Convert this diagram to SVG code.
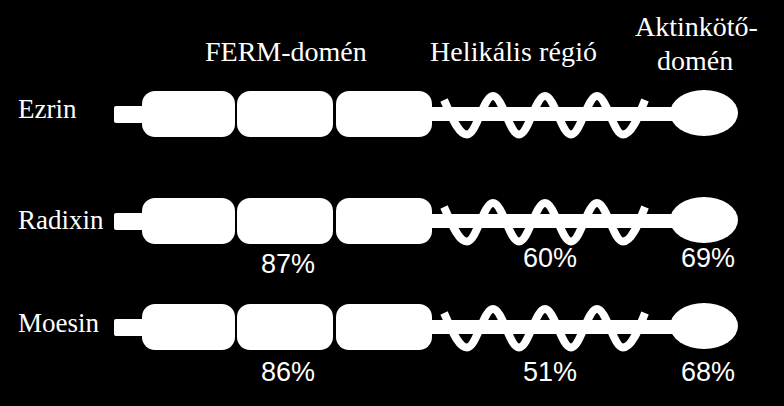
<svg xmlns="http://www.w3.org/2000/svg" width="784" height="406" viewBox="0 0 784 406">
<style>
.bg{fill:#000}
.w{fill:#fff}
.wave{fill:none;stroke:#fff;stroke-width:8;stroke-linecap:butt}
.hdr{font-family:"Liberation Serif","Times New Roman",serif;font-size:28px;fill:#fff}
.lbl{font-family:"Liberation Serif","Times New Roman",serif;font-size:27px;fill:#fff}
.pct{font-family:"Liberation Sans",Arial,sans-serif;font-size:27px;fill:#fff;text-anchor:middle}
</style>
<defs>
<g id="protein">
<rect class="w" x="114" y="106" width="34" height="17" rx="2"/>
<rect class="w" x="431" y="107" width="250" height="14"/>
<path class="wave" d="M444,100 C451,115 458,134.5 467,134.5 C476.4,134.5 483.6,96 493,96 C502.4,96 509.6,134.5 519,134.5 C528.4,134.5 535.6,96 545,96 C554.4,96 561.6,134.5 571,134.5 C580.4,134.5 587.6,96 597,96 C606.4,96 613.6,134.5 623,134.5 C632,134.5 639,115 645,100"/>
<rect class="w" x="142" y="91" width="93" height="46" rx="13"/>
<rect class="w" x="237" y="91" width="96" height="46" rx="13"/>
<rect class="w" x="336" y="91" width="96" height="46" rx="13"/>
<ellipse class="w" cx="704" cy="113" rx="34" ry="23"/>
</g>
</defs>
<rect class="bg" x="0" y="0" width="784" height="406"/>
<g id="headers">
<text class="hdr" x="205" y="61">FERM-domén</text>
<text class="hdr" x="430" y="61" textLength="167" lengthAdjust="spacing">Helikális régió</text>
<text class="hdr" x="635" y="36">Aktinkötő-</text>
<text class="hdr" x="657" y="70">domén</text>
</g>
<g id="ezrin">
<use href="#protein"/>
<text class="lbl" x="18" y="118">Ezrin</text>
</g>
<g id="radixin">
<use href="#protein" transform="translate(0,107)"/>
<text class="lbl" x="18" y="229">Radixin</text>
<text class="pct" x="288" y="273">87%</text>
<text class="pct" x="550" y="267">60%</text>
<text class="pct" x="708" y="267">69%</text>
</g>
<g id="moesin">
<use href="#protein" transform="translate(0,213)"/>
<text class="lbl" x="18" y="332">Moesin</text>
<text class="pct" x="288" y="381">86%</text>
<text class="pct" x="550" y="381">51%</text>
<text class="pct" x="708" y="381">68%</text>
</g>
<g id="connectors"/>
</svg>
